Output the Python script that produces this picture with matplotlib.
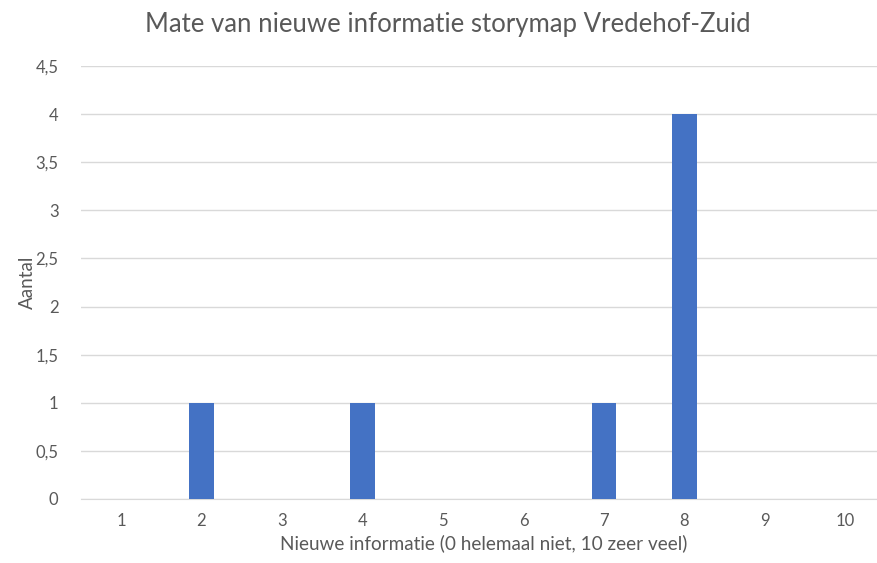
import matplotlib.pyplot as plt
from matplotlib.ticker import FuncFormatter

categories = ["1", "2", "3", "4", "5", "6", "7", "8", "9", "10"]
counts = [0, 1, 0, 1, 0, 0, 1, 4, 0, 0]
y_ticks = [0, 0.5, 1, 1.5, 2, 2.5, 3, 3.5, 4, 4.5]

plt.rcParams['font.family'] = ['Lato', 'DejaVu Sans']

fig = plt.figure(figsize=(8.77, 5.63), dpi=100)
ax = fig.add_axes([0.092, 0.1137, 0.918, 0.7691])

x = list(range(len(categories)))
ax.bar(x, counts, width=0.31, color='#4472C4', zorder=3)

ax.set_xlim(-0.5, len(categories) - 0.5)
ax.set_ylim(0, 4.5)
ax.set_yticks(y_ticks)
ax.yaxis.set_major_formatter(FuncFormatter(lambda v, p: (f"{v:g}").replace('.', ',')))
ax.set_xticks(x)
ax.set_xticklabels(categories)

ax.grid(axis='y', color='#D9D9D9', linewidth=1, zorder=0)
for s in ['top', 'right', 'left']:
    ax.spines[s].set_visible(False)
ax.spines['bottom'].set_color('#D9D9D9')
ax.tick_params(axis='both', length=0, colors='#595959', labelsize=12)
ax.tick_params(axis='x', pad=10)
ax.tick_params(axis='y', pad=16)

ax.set_xlabel("Nieuwe informatie (0 helemaal niet, 10 zeer veel)", fontsize=13.6, color='#595959', labelpad=4)
ax.set_ylabel("Aantal", fontsize=13.6, color='#595959', labelpad=0)
fig.text(0.511, 0.957, "Mate van nieuwe informatie storymap Vredehof-Zuid", ha='center', va='center',
         fontsize=18.5, color='#595959')

fig.savefig('out.png', dpi=100)
